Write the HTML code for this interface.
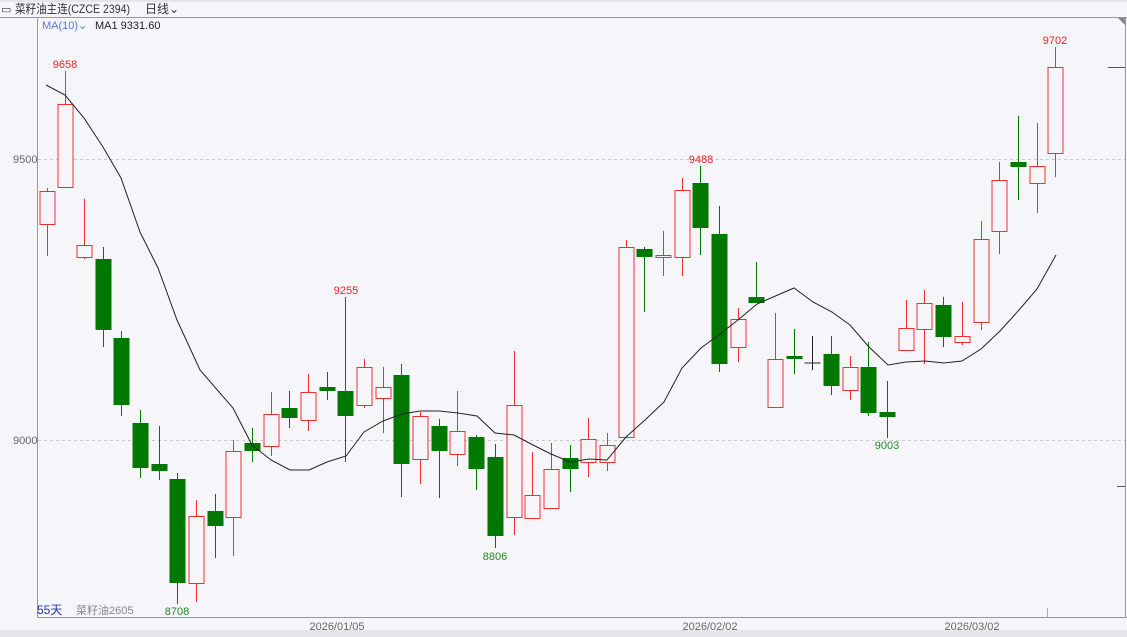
<!DOCTYPE html>
<html><head><meta charset="utf-8"><style>
body{margin:0;background:#f6f6fa;width:1127px;height:637px;overflow:hidden;font-family:"Liberation Sans","Noto Sans CJK SC",sans-serif}
svg{position:absolute;left:0;top:0}
</style></head><body>
<svg id="s" width="1127" height="637" xmlns="http://www.w3.org/2000/svg" font-family="Liberation Sans, Noto Sans CJK SC, sans-serif">
<rect x="0" y="0" width="1127" height="637" fill="#f6f6fa"/>
<rect x="0" y="630" width="1127" height="7" fill="#e4e4ea"/>
<rect x="0" y="0" width="1127" height="2" fill="#e4e4ea"/>
<line x1="0" y1="17.5" x2="1127" y2="17.5" stroke="#999"/>
<line x1="37.5" y1="17" x2="37.5" y2="618" stroke="#999"/>
<line x1="37" y1="617.5" x2="1127" y2="617.5" stroke="#999"/>
<line x1="1125.5" y1="17" x2="1125.5" y2="618" stroke="#999"/>
<line x1="1108" y1="67.5" x2="1125" y2="67.5" stroke="#555"/>
<line x1="1117" y1="486.5" x2="1125" y2="486.5" stroke="#555"/>
<polygon points="1118,18 1125,18 1125,25" fill="#888"/>
<line x1="38" y1="159.5" x2="1125" y2="159.5" stroke="#c8c8d0" stroke-dasharray="3,3"/>
<line x1="38" y1="440.5" x2="1125" y2="440.5" stroke="#c8c8d0" stroke-dasharray="3,3"/>
<line x1="1047.5" y1="608" x2="1047.5" y2="617" stroke="#aaa"/>
<text x="1" y="13" font-size="11" fill="#333">▭</text>
<text x="15" y="13" font-size="12" fill="#333" textLength="115" lengthAdjust="spacingAndGlyphs">菜籽油主连(CZCE 2394)</text>
<text x="145" y="13" font-size="12" fill="#333">日线⌄</text>
<text x="42" y="29" font-size="11" fill="#5577dd">MA(10)⌄</text>
<text x="95" y="29" font-size="11" fill="#222">MA1 9331.60</text>
<text x="13" y="163" font-size="11" fill="#666">9500</text>
<text x="13" y="444" font-size="11" fill="#666">9000</text>
<text x="37" y="614" font-size="12" fill="#2233aa">55天</text>
<text x="76" y="614" font-size="11" fill="#888">菜籽油2605</text>
<text x="337" y="630" font-size="11" fill="#666" text-anchor="middle">2026/01/05</text>
<text x="710" y="630" font-size="11" fill="#666" text-anchor="middle">2026/02/02</text>
<text x="972" y="630" font-size="11" fill="#666" text-anchor="middle">2026/03/02</text>
<text x="65" y="68" font-size="11" fill="#ee2222" text-anchor="middle">9658</text>
<text x="346" y="294" font-size="11" fill="#ee2222" text-anchor="middle">9255</text>
<text x="701" y="163" font-size="11" fill="#ee2222" text-anchor="middle">9488</text>
<text x="1055" y="44" font-size="11" fill="#ee2222" text-anchor="middle">9702</text>
<text x="177" y="615" font-size="11" fill="#228822" text-anchor="middle">8708</text>
<text x="495" y="560" font-size="11" fill="#228822" text-anchor="middle">8806</text>
<text x="887" y="449" font-size="11" fill="#228822" text-anchor="middle">9003</text>
<g id="c"></g>
<polyline fill="none" stroke="#222" stroke-width="1" points="46,85 65,95 84,118 103,147 121,178 140,232 158,268 177,320 200,370 233,408 252,445 271,460 290,470 309,470 327,462 346,456 364,432 383,421 402,414 420,411 439,411 458,413 477,416 495,433 514,435 533,445 551,454 570,462 589,459 607,460 626,437 645,420 664,402 682,368 701,348 720,334 738,320 757,304 794,288 813,302 832,312 850,325 869,347 888,365 906,362 925,361 944,363 962,361 981,349 1000,331 1019,310 1037,289 1056,255"/>
</svg>
<script>
var d=[[191,224,188,256,'r'],[104,187,71,187,'r'],[245,257,199,259,'r'],[259,330,247,347,'g'],[338,405,331,416,'g'],[423,468,410,478,'g'],[464,471,426,480,'g'],[479,583,473,604,'g'],[516,583,500,602,'r'],[511,526,494,558,'g'],[451,517,440,556,'r'],[443,451,428,462,'g'],[414,446,392,456,'r'],[408,418,391,428,'g'],[392,420,374,431,'r'],[387,391,372,400,'g'],[391,416,297,462,'g'],[367,405,359,408,'r'],[387,398,367,433,'r'],[375,464,364,497,'g'],[416,459,412,484,'r'],[426,451,419,498,'g'],[431,454,391,466,'r'],[437,469,435,490,'g'],[457,536,444,548,'g'],[405,517,351,535,'r'],[495,518,452,519,'r'],[469,508,443,508,'r'],[458,469,445,492,'g'],[439,462,418,477,'r'],[445,462,433,471,'r'],[247,437,240,437,'r'],[249,257,247,312,'g'],[255,257,231,276,'r'],[190,257,178,276,'r'],[183,228,166,255,'g'],[234,364,206,372,'g'],[319,347,308,362,'r'],[297,303,262,303,'g'],[359,407,313,407,'r'],[356,359,329,374,'g'],[363,363,336,370,'k'],[354,386,336,395,'g'],[367,390,356,400,'r'],[367,413,342,416,'g'],[412,417,381,438,'g'],[328,350,300,350,'r'],[303,329,290,364,'r'],[305,337,297,347,'g'],[336,342,302,345,'r'],[239,322,221,330,'r'],[180,231,162,254,'r'],[162,167,116,200,'g'],[166,183,123,213,'r'],[67,153,47,177,'r']];
var h='';d.forEach(function(c,i){var x=Math.round(46.5+18.68*i)+0.5;var col=c[4]=='r'?'#f03030':c[4]=='g'?'#007800':'#222';
h+='<line x1="'+x+'" y1="'+c[2]+'" x2="'+x+'" y2="'+c[3]+'" stroke="'+col+'"/>';
if(c[4]=='k'){h+='<line x1="'+(x-8)+'" y1="'+c[0]+'" x2="'+(x+8)+'" y2="'+c[0]+'" stroke="#222"/>';}
else if(c[4]=='r'){h+='<rect x="'+(x-7.5)+'" y="'+(c[0]+.5)+'" width="15" height="'+Math.max(1,c[1]-c[0])+'" fill="#f6f6fa" stroke="#f03030"/>';}
else{h+='<rect x="'+(x-8)+'" y="'+c[0]+'" width="16" height="'+Math.max(2,c[1]-c[0])+'" fill="#007800"/>';}});
document.getElementById('c').innerHTML=h;
</script>
</body></html>
